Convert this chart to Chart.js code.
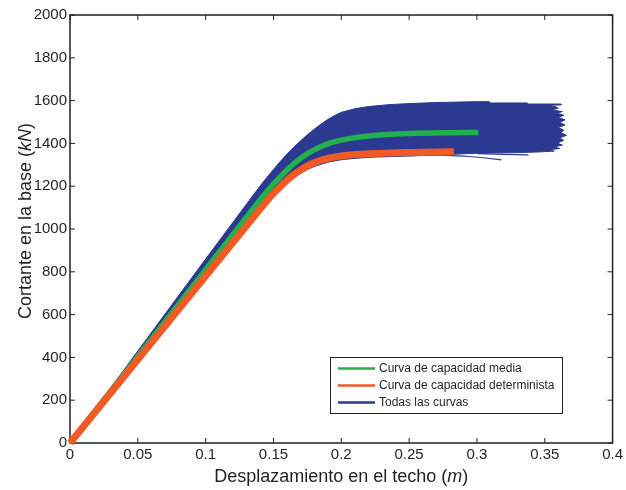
<!DOCTYPE html>
<html>
<head>
<meta charset="utf-8">
<title>Curvas de capacidad</title>
<script src="https://cdn.jsdelivr.net/npm/chart.js@4.4.1/dist/chart.umd.min.js"></script>
<style>
	body { margin: 0; background: #fff; }
	#grafica-wrap { width: 626px; height: 490px; }
</style>
</head>
<body>
<div id="grafica-wrap"><canvas id="grafica-capacidad" width="626" height="490"></canvas></div>
<script>
// Curva de capacidad media (m, kN)
var desp_media = [0, 0.05, 0.10, 0.14, 0.145, 0.15, 0.155, 0.16, 0.165, 0.17, 0.175, 0.18, 0.185, 0.19, 0.20, 0.21, 0.22, 0.25, 0.28, 0.301];
var cortante_media = [0, 405, 810, 1135, 1174, 1210, 1244, 1276, 1305, 1330, 1352, 1370, 1385, 1398, 1415, 1427, 1435, 1446, 1450, 1451];

// Curva de capacidad determinista
var desp_determinista = [0, 0.05, 0.10, 0.14, 0.145, 0.15, 0.155, 0.16, 0.165, 0.17, 0.175, 0.18, 0.19, 0.20, 0.21, 0.22, 0.25, 0.283];
var cortante_determinista = [0, 390, 780, 1092, 1130, 1166, 1198, 1228, 1254, 1276, 1295, 1310, 1330, 1341, 1348, 1352, 1358, 1361];

// Todas las curvas: contorno del haz (borde superior, final de cada curva, borde inferior)
var desp_haz = [0, 0.05, 0.10, 0.14, 0.145, 0.15, 0.155, 0.16, 0.165, 0.17, 0.175, 0.18, 0.185, 0.19, 0.195, 0.20,
	0.21, 0.22, 0.235, 0.25, 0.27, 0.30, 0.309,
	0.309, 0.337, 0.337, 0.362, 0.362, 0.352, 0.358, 0.36, 0.355, 0.363, 0.359, 0.364, 0.36, 0.365, 0.361,
	0.365, 0.36, 0.364, 0.362, 0.366, 0.361, 0.364, 0.359, 0.363, 0.357, 0.361, 0.352, 0.357, 0.345,
	0.33, 0.30, 0.27, 0.25, 0.22, 0.21, 0.20, 0.19, 0.18, 0.175, 0.17, 0.165, 0.16, 0.155, 0.15, 0.10, 0.05, 0];
var cortante_haz = [0, 430, 860, 1200, 1240, 1278, 1315, 1350, 1382, 1412, 1440, 1466, 1490, 1512, 1530, 1545,
	1562, 1572, 1581, 1586, 1591, 1595, 1595,
	1589, 1589, 1584, 1584, 1580, 1578, 1572, 1564, 1556, 1549, 1541, 1532, 1521, 1510, 1498,
	1486, 1474, 1462, 1450, 1438, 1426, 1414, 1402, 1392, 1384, 1376, 1370, 1364, 1360,
	1357, 1354, 1346, 1341, 1335, 1330, 1324, 1312, 1292, 1278, 1260, 1238, 1212, 1182, 1150, 768, 384, 0];

// curvas sueltas que salen por debajo del haz
var desp_cola1 = [0.25, 0.27, 0.29, 0.305, 0.318];
var cortante_cola1 = [1343, 1346, 1341, 1333, 1323];
var desp_cola2 = [0.30, 0.32, 0.338];
var cortante_cola2 = [1352, 1349, 1346];

var ticks_x = { min: 0, max: 0.4, paso: 0.05 };
var ticks_y = { min: 0, max: 2000, paso: 200 };

var colorVerde = '#22b14c';
var colorNaranja = '#f15a24';
var colorAzul = '#2b3990';
var colorEjes = '#231f20';
var fuente = "'Liberation Sans', Arial, Helvetica, sans-serif";

function puntos(xs, ys) {
	return xs.map(function(x, i) {
		return { x: x, y: ys[i] };
	});
}

// marco y ticks hacia dentro en los cuatro lados
var marcoEjes = {
	id: 'marcoEjes',
	beforeDatasetsDraw: function(chart) {
		var ctx = chart.ctx, a = chart.chartArea;
		var sx = chart.scales.x, sy = chart.scales.y;
		ctx.save();
		ctx.strokeStyle = colorEjes;
		ctx.lineWidth = 1.5;
		ctx.strokeRect(a.left, a.top, a.right - a.left, a.bottom - a.top);
		ctx.lineWidth = 1;
		ctx.beginPath();
		sx.ticks.forEach(function(t) {
			var px = sx.getPixelForValue(t.value);
			ctx.moveTo(px, a.bottom); ctx.lineTo(px, a.bottom - 5);
			ctx.moveTo(px, a.top); ctx.lineTo(px, a.top + 5);
		});
		sy.ticks.forEach(function(t) {
			var py = sy.getPixelForValue(t.value);
			ctx.moveTo(a.left, py); ctx.lineTo(a.left + 5, py);
			ctx.moveTo(a.right, py); ctx.lineTo(a.right - 5, py);
		});
		ctx.stroke();
		ctx.restore();
	}
};

// escribe un texto con partes en cursiva, centrado en (0,0)
function textoMixto(ctx, partes, size) {
	var total = 0;
	partes.forEach(function(p) {
		ctx.font = (p.cursiva ? 'italic ' : '') + size + 'px ' + fuente;
		p.ancho = ctx.measureText(p.texto).width;
		total += p.ancho;
	});
	var x = -total / 2;
	partes.forEach(function(p) {
		ctx.font = (p.cursiva ? 'italic ' : '') + size + 'px ' + fuente;
		ctx.fillText(p.texto, x, 0);
		x += p.ancho;
	});
}

var titulosEjes = {
	id: 'titulosEjes',
	afterDraw: function(chart) {
		var ctx = chart.ctx, a = chart.chartArea;
		ctx.save();
		ctx.fillStyle = colorEjes;
		ctx.textBaseline = 'middle';
		ctx.textAlign = 'left';

		ctx.save();
		ctx.translate((a.left + a.right) / 2, 477);
		textoMixto(ctx, [
			{ texto: 'Desplazamiento en el techo (' },
			{ texto: 'm', cursiva: true },
			{ texto: ')' }
		], 18);
		ctx.restore();

		ctx.save();
		ctx.translate(26, 221);
		ctx.rotate(-Math.PI / 2);
		textoMixto(ctx, [
			{ texto: 'Cortante en la base (' },
			{ texto: 'kN', cursiva: true },
			{ texto: ')' }
		], 18);
		ctx.restore();

		ctx.restore();
	}
};

// leyenda dentro del area de la grafica
var leyendaCurvas = {
	id: 'leyendaCurvas',
	afterDraw: function(chart) {
		var ctx = chart.ctx;
		var items = [
			{ texto: 'Curva de capacidad media', color: colorVerde },
			{ texto: 'Curva de capacidad determinista', color: colorNaranja },
			{ texto: 'Todas las curvas', color: colorAzul }
		];
		ctx.save();
		ctx.fillStyle = '#fff';
		ctx.fillRect(330, 357, 232, 56);
		ctx.strokeStyle = colorEjes;
		ctx.lineWidth = 1;
		ctx.strokeRect(330.5, 357.5, 232, 56);
		ctx.font = '12px ' + fuente;
		ctx.textBaseline = 'middle';
		items.forEach(function(it, i) {
			var y = 368.5 + i * 17;
			ctx.strokeStyle = it.color;
			ctx.lineWidth = 2.5;
			ctx.beginPath();
			ctx.moveTo(338, y);
			ctx.lineTo(375, y);
			ctx.stroke();
			ctx.fillStyle = colorEjes;
			ctx.fillText(it.texto, 379, y + 0.5);
		});
		ctx.restore();
	}
};

Chart.defaults.font.family = fuente;
Chart.defaults.font.size = 15;
Chart.defaults.color = colorEjes;

var config = {
	type: 'line',
	data: {
		datasets: [{
			label: 'Curva de capacidad determinista',
			data: puntos(desp_determinista, cortante_determinista),
			borderColor: colorNaranja,
			borderWidth: 7,
			pointRadius: 0,
			cubicInterpolationMode: 'monotone',
			clip: false,
			order: 1
		}, {
			label: 'Curva de capacidad media',
			data: puntos(desp_media, cortante_media),
			borderColor: colorVerde,
			borderWidth: 5.5,
			pointRadius: 0,
			cubicInterpolationMode: 'monotone',
			clip: false,
			order: 2
		}, {
			label: 'Todas las curvas',
			data: puntos(desp_haz, cortante_haz),
			borderColor: colorAzul,
			backgroundColor: colorAzul,
			borderWidth: 1,
			pointRadius: 0,
			fill: 'shape',
			order: 3
		}, {
			label: 'cola 1',
			data: puntos(desp_cola1, cortante_cola1),
			borderColor: colorAzul,
			borderWidth: 1.2,
			pointRadius: 0,
			order: 4
		}, {
			label: 'cola 2',
			data: puntos(desp_cola2, cortante_cola2),
			borderColor: colorAzul,
			borderWidth: 1.2,
			pointRadius: 0,
			order: 4
		}]
	},
	options: {
		responsive: false,
		animation: false,
		layout: {
			padding: { top: 15, right: 12, left: 0, bottom: 0 }
		},
		plugins: {
			legend: { display: false },
			tooltip: { enabled: false }
		},
		scales: {
			x: {
				type: 'linear',
				min: ticks_x.min,
				max: ticks_x.max,
				grid: { display: false, drawTicks: false },
				border: { display: false },
				ticks: {
					stepSize: ticks_x.paso,
					padding: 3,
					maxRotation: 0,
					autoSkip: false,
					callback: function(v) { return String(Math.round(v * 100) / 100); }
				},
				afterFit: function(scale) { scale.height = 47; }
			},
			y: {
				type: 'linear',
				min: ticks_y.min,
				max: ticks_y.max,
				grid: { display: false, drawTicks: false },
				border: { display: false },
				ticks: {
					stepSize: ticks_y.paso,
					padding: 3,
					autoSkip: false,
					callback: function(v) { return String(v); }
				},
				afterFit: function(scale) { scale.width = 70; }
			}
		}
	},
	plugins: [marcoEjes, titulosEjes, leyendaCurvas]
};

var ctx = document.getElementById('grafica-capacidad').getContext('2d');
var graficaCapacidad = new Chart(ctx, config);
</script>
</body>
</html>
